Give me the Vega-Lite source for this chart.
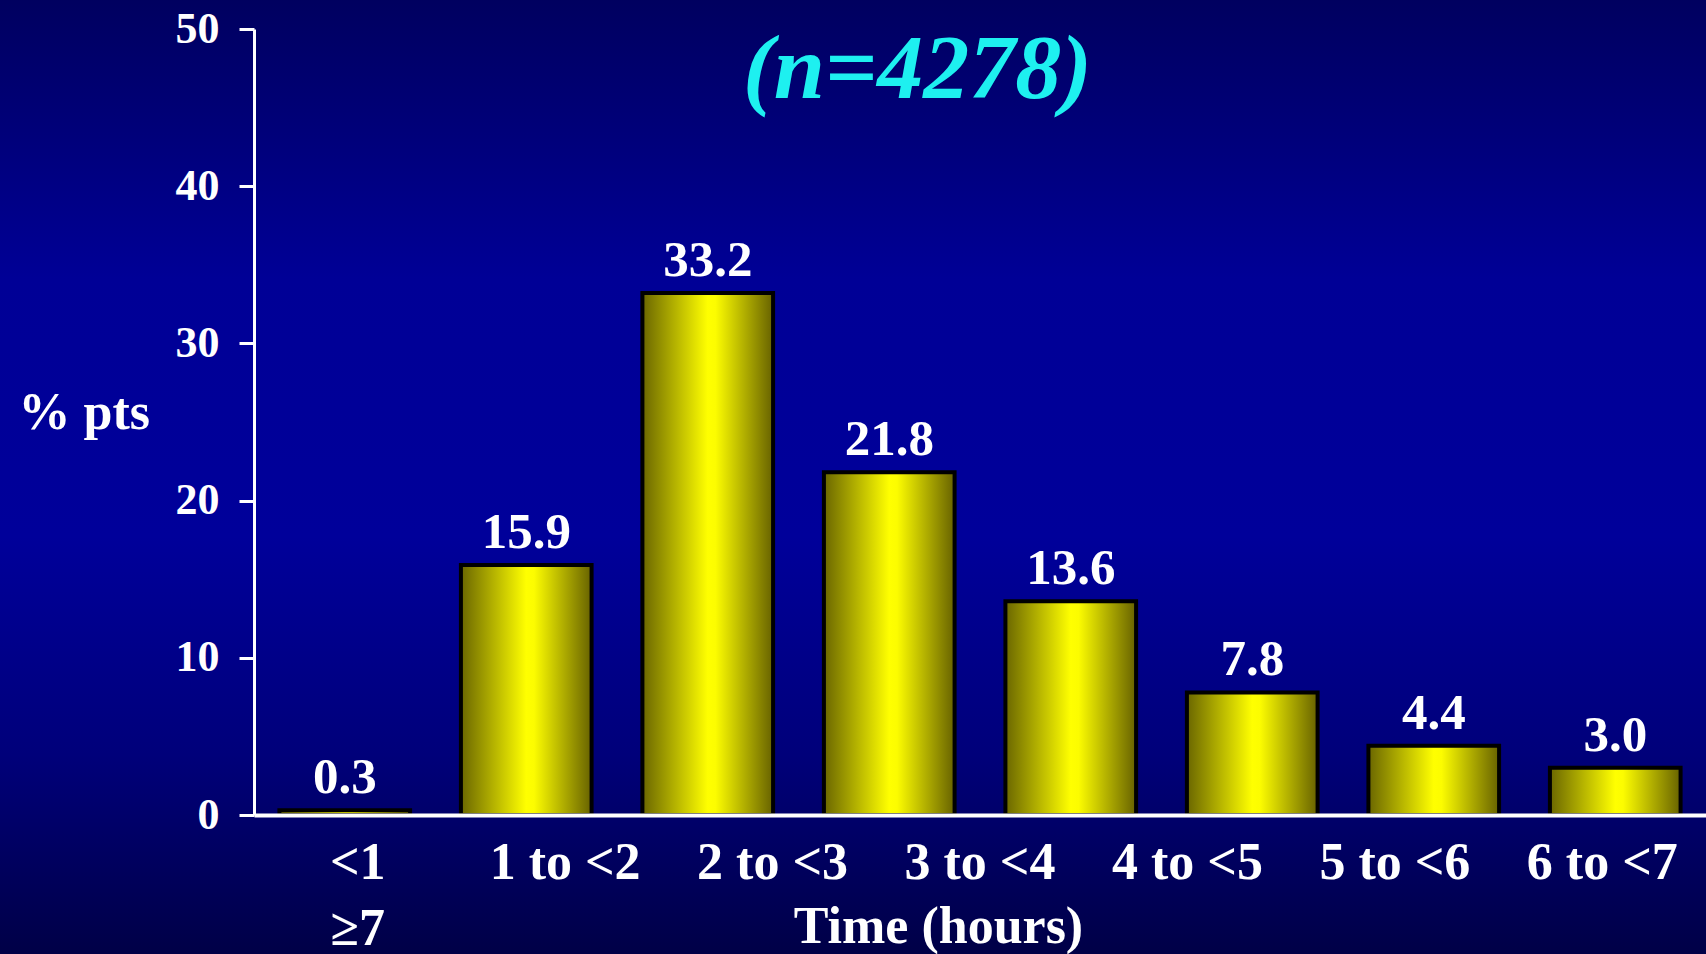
{
  "$schema": "https://vega.github.io/schema/vega-lite/v6.json",
  "width": 1452,
  "height": 786,
  "autosize": {"type": "none"},
  "padding": {"left": 254, "top": 29, "right": 0, "bottom": 139},
  "background": "#000088",
  "config": {"view": {"stroke": null}, "font": "Liberation Serif"},
  "title": {
    "text": "(n=4278)",
    "anchor": "start",
    "frame": "group",
    "offset": -135,
    "dx": 489,
    "font": "Liberation Serif",
    "fontSize": 92,
    "fontStyle": "italic",
    "fontWeight": "bold",
    "color": "#1EF0F0"
  },
  "datasets": {
    "times": [
      {"time": "<1", "pct": 0.3},
      {"time": "1 to <2", "pct": 15.9},
      {"time": "2 to <3", "pct": 33.2},
      {"time": "3 to <4", "pct": 21.8},
      {"time": "4 to <5", "pct": 13.6},
      {"time": "5 to <6", "pct": 7.8},
      {"time": "6 to <7", "pct": 4.4},
      {"time": "≥7", "pct": 3.0}
    ],
    "labelRow": [
      {"label": "<1\n≥7"},
      {"label": "1 to <2"},
      {"label": "2 to <3"},
      {"label": "3 to <4"},
      {"label": "4 to <5"},
      {"label": "5 to <6"},
      {"label": "6 to <7"}
    ]
  },
  "resolve": {
    "scale": {"x": "independent", "y": "independent"},
    "axis": {"x": "independent", "y": "independent"}
  },
  "layer": [
    {
      "data": {"values": [{}]},
      "mark": {
        "type": "rect",
        "strokeWidth": 0,
        "fill": {
          "gradient": "linear",
          "x1": 0, "y1": 0, "x2": 0, "y2": 1,
          "stops": [
            {"offset": 0, "color": "#00005c"},
            {"offset": 0.3, "color": "#000096"},
            {"offset": 0.56, "color": "#00009a"},
            {"offset": 0.78, "color": "#00007a"},
            {"offset": 1, "color": "#000042"}
          ]
        }
      },
      "encoding": {
        "x": {"datum": -0.2, "type": "quantitative", "scale": {"domain": [0, 1]}, "axis": null},
        "x2": {"datum": 1.05},
        "y": {"datum": 53, "type": "quantitative", "scale": {"domain": [0, 50], "nice": false}, "axis": null},
        "y2": {"datum": -10}
      }
    },
    {
      "data": {"name": "times"},
      "encoding": {
        "x": {
          "field": "time",
          "type": "nominal",
          "sort": null,
          "scale": {"type": "band", "paddingInner": 0.28, "paddingOuter": 0.14},
          "axis": null
        },
        "y": {
          "field": "pct",
          "type": "quantitative",
          "scale": {"domain": [0, 50], "nice": false},
          "axis": {
            "orient": "left",
            "zindex": 1,
            "values": [0, 10, 20, 30, 40, 50],
            "grid": false,
            "domainColor": "white",
            "domainWidth": 3,
            "tickColor": "white",
            "tickWidth": 3,
            "tickSize": 15,
            "labelColor": "white",
            "labelFont": "Liberation Serif",
            "labelFontWeight": "bold",
            "labelFontSize": 44,
            "labelPadding": 20,
            "title": "% pts",
            "titleAngle": 0,
            "titleAlign": "left",
            "titleBaseline": "alphabetic",
            "titleX": -236,
            "titleY": 399,
            "titleColor": "white",
            "titleFont": "Liberation Serif",
            "titleFontSize": 52,
            "titleFontWeight": "bold"
          }
        }
      },
      "layer": [
        {
          "mark": {
            "type": "bar",
            "stroke": "black",
            "strokeWidth": 4,
            "fill": {
              "gradient": "linear",
              "x1": 0, "y1": 0, "x2": 1, "y2": 0,
              "stops": [
                {"offset": 0, "color": "#6a6600"},
                {"offset": 0.5, "color": "#ffff00"},
                {"offset": 0.56, "color": "#fcfc00"},
                {"offset": 1, "color": "#676200"}
              ]
            }
          }
        },
        {
          "mark": {
            "type": "text",
            "dy": -17,
            "baseline": "alphabetic",
            "font": "Liberation Serif",
            "fontSize": 51,
            "fontWeight": "bold",
            "color": "white"
          },
          "encoding": {
            "text": {"field": "pct", "type": "quantitative", "format": ".1f"}
          }
        }
      ]
    },
    {
      "data": {"name": "labelRow"},
      "mark": {"type": "point", "opacity": 0},
      "encoding": {
        "x": {
          "field": "label",
          "type": "nominal",
          "sort": null,
          "scale": {"type": "band", "paddingInner": 0, "paddingOuter": 0},
          "axis": {
            "orient": "bottom",
            "zindex": 1,
            "domainColor": "white",
            "domainWidth": 4,
            "ticks": false,
            "tickSize": 0,
            "labelColor": "white",
            "labelFont": "Liberation Serif",
            "labelFontWeight": "bold",
            "labelFontSize": 52,
            "labelAngle": 0,
            "labelBaseline": "top",
            "labelPadding": 22,
            "labelLineHeight": 66,
            "labelOverlap": false,
            "labelExpr": "split(datum.label, '\\n')",
            "title": "Time (hours)",
            "titleColor": "white",
            "titleFont": "Liberation Serif",
            "titleFontSize": 52,
            "titleFontWeight": "bold",
            "titleX": 684,
            "titleY": 127,
            "titleAlign": "center",
            "titleBaseline": "alphabetic"
          }
        }
      }
    }
  ]
}
